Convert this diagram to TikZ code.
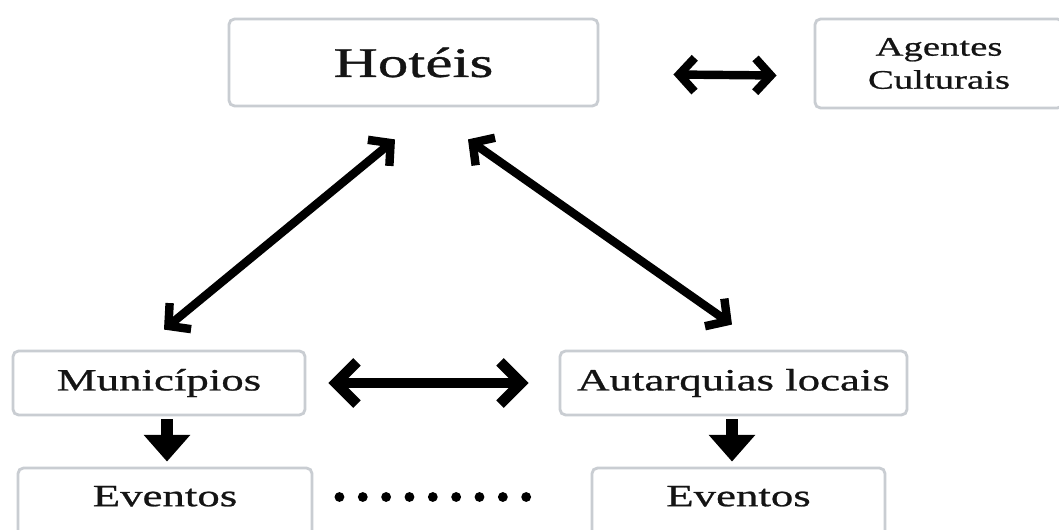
\documentclass[tikz,border=0pt]{standalone}
\usepackage{fontspec}
\setmainfont[FakeStretch=1.45,FakeBold=0.8]{Liberation Serif}
\usetikzlibrary{arrows.meta,calc}
\definecolor{ink}{HTML}{141414}
\definecolor{frame}{HTML}{C9CDD2}
\tikzset{
  box/.style={draw=frame, line width=2pt, rounded corners=4pt, fill=white, text=ink,
              inner sep=0pt, align=center, font=\fontsize{22}{26}\selectfont},
  bigbox/.style={box, font=\fontsize{30}{36}\selectfont},
  smallbox/.style={box, font=\fontsize{19}{23.5}\selectfont},
  evbox/.style={box, text height=14.5pt, text depth=8.5pt},
  dblarr/.style={{Straight Barb[length=11pt,width=24pt]}-{Straight Barb[length=11pt,width=24pt]},
                 line width=6pt, draw=black},
  bigdblarr/.style={{Straight Barb[length=15pt,width=30pt]}-{Straight Barb[length=15pt,width=30pt]},
                 line width=7.5pt, draw=black},
  downarr/.style={-{Triangle[length=19pt,width=32pt]}, line width=8pt, draw=black},
  dotline/.style={draw=black, line width=7pt, line cap=round, dash pattern=on 0pt off 16.6pt},
}

\begin{document}
\begin{tikzpicture}[x=0.025cm, y=0.025cm]
\useasboundingbox[fill=white] (0,0) rectangle (1059,530);

\node[bigbox, minimum width=9.225cm, minimum height=2.175cm] (hotel) at (413.5,467.5) {Hotéis};
\node[smallbox, minimum width=6.2cm, minimum height=2.225cm] (agentes) at (939,466.5) {Agentes\\Culturais};

\node[box, minimum width=7.3cm, minimum height=1.6cm] (muni) at (159,147) {Municípios};
\node[box, minimum width=8.675cm, minimum height=1.6cm] (autarq) at (733.5,147) {Autarquias locais};

\node[evbox, minimum width=7.35cm, minimum height=1.7cm] (ev1) at (165,28) {Eventos};
\node[evbox, minimum width=7.325cm, minimum height=1.7cm] (ev2) at (738.5,28) {Eventos};

\draw[dblarr] ($(hotel.east)+(74,-12)$) -- ($(agentes.west)+(-37,-12)$);
\draw[dblarr] ($(hotel.south)+(-18.5,-32)$) -- ($(muni.north)+(5,20)$);
\draw[dblarr] ($(hotel.south)+(54.5,-32)$) -- ($(autarq.north)+(-1.5,25)$);
\draw[bigdblarr] ($(muni.east)+(22,0)$) -- ($(autarq.west)+(-30,0)$);
\draw[downarr] ($(muni.south)+(8,-3)$) -- ($(ev1.north)+(2,5)$);
\draw[downarr] ($(autarq.south)+(-1.5,-3)$) -- ($(ev2.north)+(-6.5,5)$);
\draw[dotline] ($(ev1.east)+(26,5)$) -- ($(ev2.west)+(-43.5,5)$);

\end{tikzpicture}
\end{document}
